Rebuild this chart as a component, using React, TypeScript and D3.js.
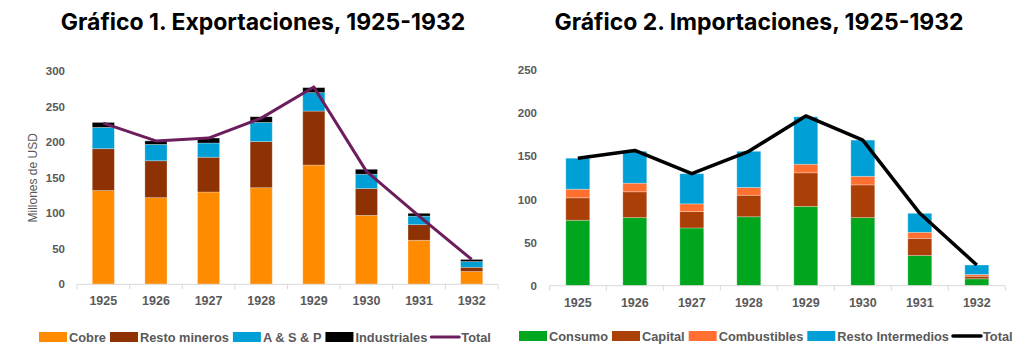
import { useEffect, useRef } from 'react';
import * as d3 from 'd3';

const years = ['1925', '1926', '1927', '1928', '1929', '1930', '1931', '1932'];

// Gráfico 1 - exportaciones (millones de USD)
const cobre = [132, 122, 130, 136, 168, 97, 62, 18];
const restoMineros = [59, 52, 49, 65, 76, 38, 22, 6];
const asp = [30, 23, 20, 27, 26, 20, 12, 8];
const industriales = [7, 5, 7, 8, 7, 7, 4, 3];
const totalExp = [227, 202, 206, 234, 278, 159, 96, 35];
const expTicks = [0, 50, 100, 150, 200, 250, 300];

// Gráfico 2 - importaciones
const consumo = [76, 79, 67, 80, 92, 79, 35, 8];
const capital = [26, 30, 19, 25, 39, 38, 20, 3];
const combustibles = [10, 10, 9, 9, 10, 10, 7, 2];
const restoInter = [36, 37, 35, 42, 55, 42, 22, 11];
const totalImp = [148, 157, 130, 156, 197, 169, 84, 24];
const impTicks = [0, 50, 100, 150, 200, 250];

const GREY = '#595959';
const FONT = '"Liberation Sans", Arial, sans-serif';

function drawChart(svg, cfg) {
  const { title, titleX, x0, x1, yTop, yBottom, yMax, ticks, series, total, lineColor, lineWidth, tickRight, yLabel, legendX, legendY } = cfg;
  const g = svg.append('g');

  const x = d3.scaleBand().domain(years).range([x0, x1]).paddingInner(0.58).paddingOuter(0.29);
  const xb = d3.scaleBand().domain(years).range([x0, x1]);
  const y = d3.scaleLinear().domain([0, yMax]).range([yBottom, yTop]);

  g.append('text')
    .attr('x', titleX).attr('y', 30)
    .attr('text-anchor', 'middle')
    .style('font-family', 'Inter, sans-serif')
    .style('font-weight', 700)
    .style('font-size', '23px')
    .attr('fill', '#000')
    .text(title);

  // y tick labels
  g.selectAll('.ylab').data(ticks).join('text')
    .attr('x', tickRight).attr('y', d => y(d) + 4)
    .attr('text-anchor', 'end')
    .style('font-family', FONT).style('font-weight', 700).style('font-size', '11.5px')
    .attr('fill', GREY)
    .text(d => d);

  if (yLabel) {
    g.append('text')
      .attr('transform', `translate(37,${(yTop + yBottom) / 2}) rotate(-90)`)
      .attr('text-anchor', 'middle')
      .style('font-family', FONT).style('font-size', '12px')
      .attr('fill', GREY)
      .text(yLabel);
  }

  // stacked bars
  const rows = years.map((yr, i) => {
    const r = { year: yr };
    series.forEach(s => { r[s.key] = s.values[i]; });
    return r;
  });
  const stacked = d3.stack().keys(series.map(s => s.key))(rows);
  stacked.forEach((layer, li) => {
    g.append('g').selectAll('rect').data(layer).join('rect')
      .attr('x', d => x(d.data.year))
      .attr('width', x.bandwidth())
      .attr('y', d => y(d[1]))
      .attr('height', d => y(d[0]) - y(d[1]))
      .attr('fill', series[li].color)
      .attr('stroke', '#fff')
      .attr('stroke-opacity', 0.35)
      .attr('stroke-width', 0.8);
  });

  // x axis
  const axis = g.append('g').attr('transform', `translate(0,${yBottom})`);
  axis.append('line').attr('x1', x0).attr('x2', x1).attr('stroke', '#d9d9d9').attr('stroke-width', 1);
  axis.selectAll('.tk').data([...years.map(d => xb(d)), x1]).join('line')
    .attr('x1', d => d).attr('x2', d => d).attr('y1', 0).attr('y2', 5)
    .attr('stroke', '#d9d9d9');
  axis.selectAll('.xl').data(years).join('text')
    .attr('x', d => xb(d) + xb.bandwidth() / 2).attr('y', 21)
    .attr('text-anchor', 'middle')
    .style('font-family', FONT).style('font-weight', 700).style('font-size', '12.5px')
    .attr('fill', GREY)
    .text(d => d);

  // total line
  const line = d3.line().x((d, i) => xb(years[i]) + xb.bandwidth() / 2).y(d => y(d));
  g.append('path').datum(total)
    .attr('d', line)
    .attr('fill', 'none')
    .attr('stroke', lineColor)
    .attr('stroke-width', lineWidth)
    .attr('stroke-linejoin', 'round');

  // legend
  const items = [...series.map(s => ({ label: s.label, color: s.color, type: 'rect' })), { label: 'Total', color: lineColor, type: 'line' }];
  const lg = g.append('g').attr('transform', `translate(${legendX},${legendY})`);
  let cx = 0;
  items.forEach(it => {
    if (it.type === 'rect') {
      lg.append('rect').attr('x', cx).attr('y', -5).attr('width', 28).attr('height', 10).attr('fill', it.color);
    } else {
      lg.append('line').attr('x1', cx).attr('x2', cx + 28).attr('y1', 0).attr('y2', 0)
        .attr('stroke', it.color).attr('stroke-width', lineWidth).attr('stroke-linecap', 'round');
    }
    const t = lg.append('text')
      .attr('x', cx + 30).attr('y', 5)
      .style('font-family', FONT).style('font-weight', 700).style('font-size', '12.8px')
      .attr('fill', GREY)
      .text(it.label);
    const w = t.node().getComputedTextLength();
    cx += 30 + w + 4;
  });
}

export default function App() {
  const svgRef = useRef(null);

  useEffect(() => {
    const svg = d3.select(svgRef.current);
    svg.selectAll('*').remove();

    drawChart(svg, {
      title: 'Gráfico 1. Exportaciones, 1925-1932',
      titleX: 263,
      x0: 77, x1: 498,
      yTop: 71.3, yBottom: 284.3, yMax: 300,
      ticks: expTicks,
      tickRight: 65,
      yLabel: 'Millones de USD',
      series: [
        { key: 'cobre', label: 'Cobre', color: '#FF8C00', values: cobre },
        { key: 'resto', label: 'Resto mineros', color: '#8E3203', values: restoMineros },
        { key: 'asp', label: 'A & S & P', color: '#009FD6', values: asp },
        { key: 'ind', label: 'Industriales', color: '#000000', values: industriales },
      ],
      total: totalExp,
      lineColor: '#6B1D5C',
      lineWidth: 3,
      legendX: 39, legendY: 337,
    });

    drawChart(svg, {
      title: 'Gráfico 2. Importaciones, 1925-1932',
      titleX: 759,
      x0: 549.3, x1: 1005.3,
      yTop: 70.3, yBottom: 285.7, yMax: 250,
      ticks: impTicks,
      tickRight: 537,
      yLabel: null,
      series: [
        { key: 'consumo', label: 'Consumo', color: '#00A61E', values: consumo },
        { key: 'capital', label: 'Capital', color: '#AA3F08', values: capital },
        { key: 'comb', label: 'Combustibles', color: '#FF7030', values: combustibles },
        { key: 'resto', label: 'Resto Intermedios', color: '#009FD6', values: restoInter },
      ],
      total: totalImp,
      lineColor: '#000000',
      lineWidth: 3.5,
      legendX: 519, legendY: 336,
    });
  }, []);

  return (
    <svg
      ref={svgRef}
      width={1026}
      height={352}
      style={{ position: 'absolute', left: 0, top: 0, background: '#fff' }}
    />
  );
}
